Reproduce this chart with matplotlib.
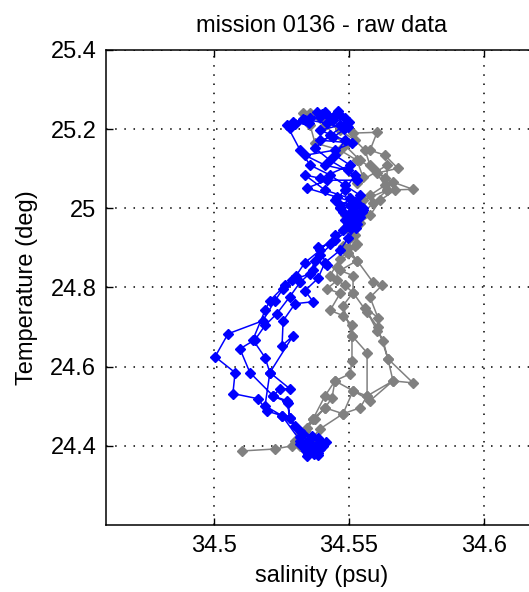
import numpy as np
import matplotlib
matplotlib.use("Agg")
import matplotlib.pyplot as plt

plt.rcParams['font.family'] = ['Liberation Sans', 'DejaVu Sans']

# glider T-S data, one block per profile
blue_sal = [34.5381, 34.5430, 34.5467, 34.5496, 34.5441, 34.5393, 34.5511, 34.5448, 34.5337, 34.5411,
            34.5496, 34.5530, 34.5419, 34.5344, 34.5456, 34.5530, 34.5552, 34.5478, 34.5485, 34.5478,
            34.5430, 34.5385, 34.5419, 34.5374, 34.5356, 34.5289, 34.5256, 34.5226, 34.5181, 34.5052,
            34.5004, 34.5078, 34.5070, 34.5163, 34.5196, 34.5252, 34.5300, 34.5348, 34.5363,
            # bottom
            34.5356, 34.5378, 34.5341, 34.5370, 34.5393, 34.5352, 34.5385, 34.5330,
            34.5320, 34.5395, 34.5345, 34.5385,
            # up
            34.5385, 34.5337, 34.5319, 34.5281, 34.5270, 34.5219, 34.5133, 34.5096, 34.5152, 34.5189,
            34.5233, 34.5281, 34.5319, 34.5367, 34.5393, 34.5448, 34.5504, 34.5541, 34.5500, 34.5530,
            34.5550, 34.5522, 34.5515, 34.5467,
            34.5541, 34.5485, 34.5430, 34.5356, 34.5319, 34.5270, 34.5293, 34.5356, 34.5411, 34.5485,
            # top
            34.5460, 34.5440, 34.5400, 34.5350, 34.5300, 34.5330, 34.5420, 34.5480, 34.5500,
            # down
            34.5467, 34.5393, 34.5485, 34.5448, 34.5504, 34.5393, 34.5337, 34.5411, 34.5504, 34.5467,
            34.5522, 34.5496, 34.5448, 34.5393, 34.5337, 34.5304, 34.5263, 34.5207, 34.5189, 34.5144,
            34.5189, 34.5207, 34.5281, 34.5244, 34.5219, 34.5274, 34.5281, 34.5319, 34.5356, 34.5400,
            34.5415, 34.5374, 34.5337,
            # bottom
            34.5348, 34.5378, 34.5404, 34.5363, 34.5341,
            # up
            34.5319, 34.5252, 34.5189, 34.5207, 34.5293, 34.5252, 34.5256, 34.5300, 34.5367, 34.5337,
            34.5385, 34.5411, 34.5467, 34.5496, 34.5526, 34.5504, 34.5548, 34.5504, 34.5448, 34.5485,
            34.5522, 34.5430, 34.5374, 34.5430, 34.5485, 34.5448, 34.5393, 34.5337, 34.5281]
blue_temp = [25.243, 25.228, 25.235, 25.205, 25.180, 25.172, 25.165, 25.147, 25.134, 25.109,
             25.096, 25.071, 25.071, 25.051, 25.028, 25.013, 24.995, 24.990, 24.970, 24.944,
             24.911, 24.901, 24.856, 24.868, 24.835, 24.818, 24.797, 24.767, 24.716, 24.683,
             24.625, 24.585, 24.532, 24.519, 24.488, 24.476, 24.451, 24.413, 24.392,
             24.405, 24.398, 24.388, 24.380, 24.392, 24.415, 24.420, 24.430,
             24.405, 24.410, 24.375, 24.378,
             24.382, 24.400, 24.423, 24.471, 24.514, 24.526, 24.585, 24.645, 24.668, 24.704,
             24.734, 24.777, 24.813, 24.843, 24.881, 24.919, 24.949, 24.977, 24.985, 24.960,
             25.000, 25.015, 24.995, 25.008,
             25.033, 25.058, 25.084, 25.109, 25.147, 25.210, 25.218, 25.228, 25.243, 25.228,
             25.245, 25.222, 25.238, 25.215, 25.212, 25.225, 25.215, 25.200, 25.218,
             25.210, 25.197, 25.172, 25.134, 25.109, 25.076, 25.084, 25.046, 25.025, 25.000,
             24.982, 24.957, 24.932, 24.894, 24.863, 24.830, 24.805, 24.767, 24.742, 24.668,
             24.623, 24.585, 24.544, 24.544, 24.526, 24.509, 24.471, 24.438, 24.418, 24.407,
             24.410, 24.387, 24.392,
             24.380, 24.395, 24.400, 24.425, 24.402,
             24.413, 24.476, 24.501, 24.585, 24.678, 24.653, 24.716, 24.759, 24.764, 24.792,
             24.823, 24.863, 24.894, 24.924, 24.949, 24.970, 24.990, 25.008, 25.020, 25.046,
             25.084, 25.121, 25.152, 25.185, 25.210, 25.235, 25.230, 25.223, 25.203]

gray_sal = [34.5104, 34.5226, 34.5289, 34.5319, 34.5344, 34.5367, 34.5411, 34.5478, 34.5541, 34.5567,
            34.5663, 34.5737, 34.5644, 34.5626, 34.5604, 34.5559, 34.5607, 34.5578, 34.5622, 34.5589,
            34.5530, 34.5496, 34.5530, 34.5504, 34.5511, 34.5485, 34.5552, 34.5589, 34.5641, 34.5737,
            34.5663, 34.5604, 34.5681, 34.5633, 34.5578, 34.5604, 34.5515, 34.5430, 34.5356, 34.5330,
            # down
            34.5356, 34.5374, 34.5467, 34.5530, 34.5552, 34.5530, 34.5641, 34.5641, 34.5552, 34.5522,
            34.5493, 34.5511, 34.5478, 34.5496, 34.5456, 34.5456, 34.5419, 34.5467, 34.5430, 34.5478,
            34.5511, 34.5511, 34.5511, 34.5504, 34.5448, 34.5437, 34.5411, 34.5374, 34.5337, 34.5319,
            # up
            34.5356, 34.5393, 34.5478, 34.5515, 34.5567, 34.5567, 34.5511, 34.5478, 34.5515, 34.5515,
            34.5467, 34.5530, 34.5496, 34.5522, 34.5541, 34.5578, 34.5615, 34.5670, 34.5633, 34.5578,
            34.5559, 34.5522, 34.5467, 34.5393,
            # down
            34.5411, 34.5485, 34.5541, 34.5596, 34.5633, 34.5578, 34.5541, 34.5504, 34.5485, 34.5522,
            34.5467, 34.5430, 34.5485, 34.5515, 34.5567, 34.5607, 34.5644, 34.5663, 34.5578, 34.5515,
            34.5448, 34.5411, 34.5367, 34.5319, 34.5300]
gray_temp = [24.387, 24.392, 24.400, 24.413, 24.445, 24.468, 24.496, 24.481, 24.496, 24.526,
             24.564, 24.559, 24.620, 24.666, 24.691, 24.749, 24.724, 24.775, 24.805, 24.813,
             24.868, 24.886, 24.911, 24.927, 24.957, 24.982, 24.987, 25.013, 25.046, 25.048,
             25.066, 25.089, 25.101, 25.134, 25.147, 25.192, 25.190, 25.223, 25.240, 25.240,
             25.210, 25.165, 25.147, 25.121, 25.078, 25.063, 25.109, 25.046, 25.020, 24.995,
             24.970, 24.939, 24.906, 24.886, 24.851, 24.818, 24.797, 24.785, 24.742, 24.729,
             24.704, 24.678, 24.615, 24.582, 24.564, 24.521, 24.496, 24.468, 24.438, 24.400,
             24.413, 24.443, 24.481, 24.539, 24.526, 24.635, 24.678, 24.754, 24.787, 24.830,
             24.843, 24.868, 24.899, 24.932, 24.964, 24.982, 25.020, 25.046, 25.076, 25.109,
             25.147, 25.172, 25.197, 25.228,
             25.210, 25.159, 25.121, 25.096, 25.058, 25.033, 25.008, 24.975, 24.949, 24.906,
             24.873, 24.830, 24.805, 24.787, 24.737, 24.699, 24.620, 24.564, 24.514, 24.539,
             24.564, 24.526, 24.468, 24.433, 24.413]

xticks = [34.5, 34.55, 34.6]
xticklabels = ['34.5', '34.55', '34.6']
yticks = [24.4, 24.6, 24.8, 25.0, 25.2, 25.4]
yticklabels = ['24.4', '24.6', '24.8', '25', '25.2', '25.4']

fig = plt.figure(figsize=(5.29, 5.92), dpi=100)
ax = fig.add_axes([0.2004, 0.1132, 0.8166, 0.8024])

grey = (0.5, 0.5, 0.5)
ax.plot(gray_sal, gray_temp, '-D', color=grey, lw=1.1, ms=5.2, mec=grey)
ax.plot(blue_sal, blue_temp, '-D', color=(0, 0, 1), lw=1.1, ms=5.2, mec=(0, 0, 1))

ax.set_xlim(34.46, 34.62)
ax.set_ylim(24.2, 25.4)
ax.set_xticks(xticks)
ax.set_xticklabels(xticklabels)
ax.set_yticks(yticks)
ax.set_yticklabels(yticklabels)

ax.grid(True, color='k', linestyle=(0, (1, 5)), linewidth=1.1)
ax.tick_params(direction='in', length=5, width=1, top=True, right=True,
               labelsize=17, pad=7)
for s in ax.spines.values():
    s.set_linewidth(1.1)

ax.set_title("mission 0136 - raw data", fontsize=17, pad=13)
ax.set_xlabel("salinity (psu)", fontsize=17, labelpad=6)
ax.set_ylabel("Temperature (deg)", fontsize=17, labelpad=9)

fig.savefig("out.png", dpi=100)
